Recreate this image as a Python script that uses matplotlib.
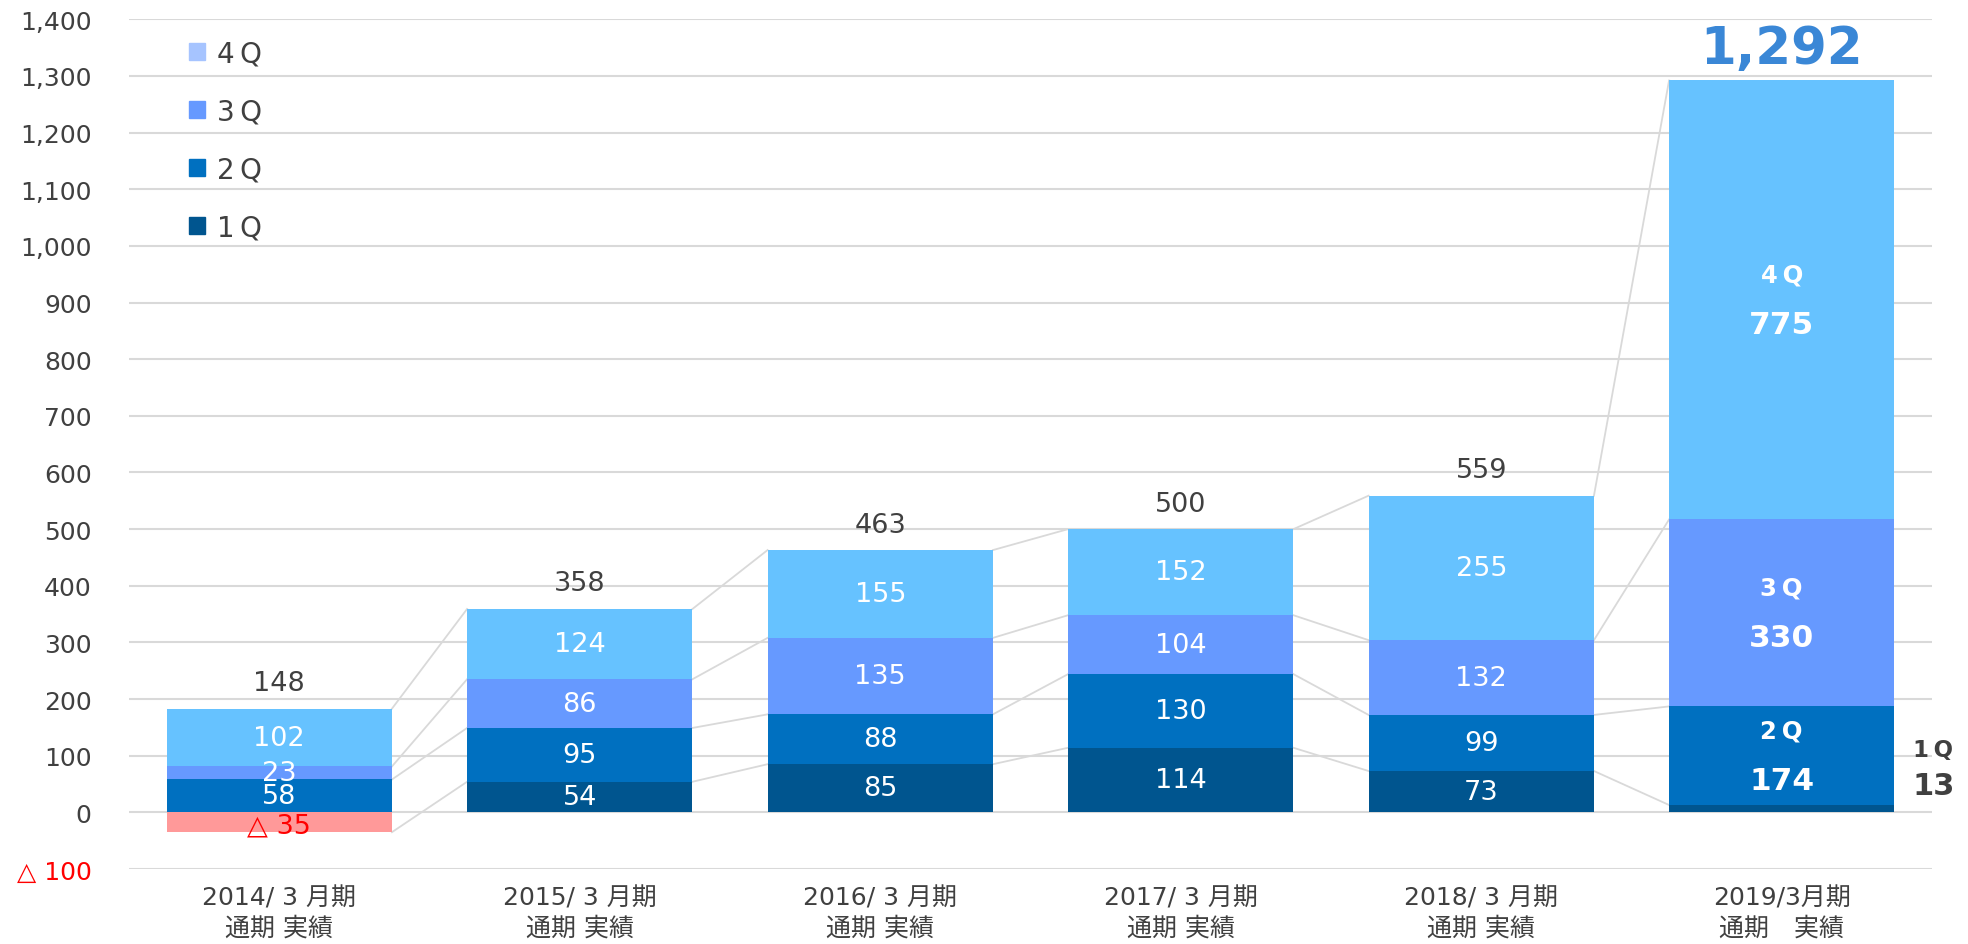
import numpy as np
import matplotlib.pyplot as plt
from matplotlib.patches import Patch

plt.rcParams['font.family'] = ['DejaVu Sans', 'Noto Sans CJK JP']

# data
categories = ["2014/ 3 月期\n通期 実績", "2015/ 3 月期\n通期 実績", "2016/ 3 月期\n通期 実績",
              "2017/ 3 月期\n通期 実績", "2018/ 3 月期\n通期 実績", "2019/3月期\n通期　実績"]
q1 = [-35, 54, 85, 114, 73, 13]
q2 = [58, 95, 88, 130, 99, 174]
q3 = [23, 86, 135, 104, 132, 330]
q4 = [102, 124, 155, 152, 255, 775]
totals = [148, 358, 463, 500, 559, 1292]
series_names = ["1\u2009Q", "2\u2009Q", "3\u2009Q", "4\u2009Q"]

colors = ["#00558f", "#0070c0", "#6699ff", "#66c2ff"]
neg_color = "#ff9999"
legend_colors = ["#00558f", "#0070c0", "#6699ff", "#a6c4ff"]
grey = "#404040"
line_grey = "#d9d9d9"

fig = plt.figure(figsize=(19.68, 9.45), dpi=100)
ax = fig.add_axes([129/1968, 1-870/945, (1932-129)/1968, (870-20.3)/945])

x = np.arange(len(categories))
w = 0.75
series = [q1, q2, q3, q4]
pos_base = np.zeros(len(x))
ends = []
bottoms = []
for k, vals in enumerate(series):
    vals = np.array(vals, dtype=float)
    bottom = np.where(vals < 0, 0, pos_base)
    cols = [neg_color if v < 0 else colors[k] for v in vals]
    ax.bar(x, vals, w, bottom=bottom, color=cols, zorder=3, linewidth=0)
    bottoms.append(bottom)
    ends.append(bottom + vals)
    pos_base = np.where(vals < 0, pos_base, pos_base + vals)

# connector lines between bars
for k in range(4):
    for i in range(len(x) - 1):
        ax.plot([x[i] + w/2, x[i+1] - w/2], [ends[k][i], ends[k][i+1]],
                color=line_grey, lw=1.3, zorder=2)

# segment labels
last = len(x) - 1
for k, vals in enumerate(series):
    for i, v in enumerate(vals):
        yc = bottoms[k][i] + v / 2
        if i == last:
            if k == 0:
                continue
            ax.annotate(series_names[k], (x[i], yc), xytext=(0, 18), textcoords="offset points",
                        ha="center", va="center", color="white", fontsize=17.5, fontweight="bold", zorder=5)
            ax.annotate(f"{v}", (x[i], yc), xytext=(0, -18), textcoords="offset points",
                        ha="center", va="center", color="white", fontsize=22.5, fontweight="bold", zorder=5)
        elif v < 0:
            ax.text(x[i], yc - 6, f"△ {abs(v)}", ha="center", va="center", color="red",
                    fontsize=19.5, zorder=5)
        else:
            ax.text(x[i], yc, f"{v}", ha="center", va="center", color="white", fontsize=19.5, zorder=5)

# 1Q label of last bar, outside right
ax.annotate(series_names[0], (x[last] + w/2, q1[last]), xytext=(28, 40), textcoords="offset points",
            ha="center", va="center", color=grey, fontsize=16.5, fontweight="bold", annotation_clip=False)
ax.annotate(f"{q1[last]}", (x[last] + w/2, q1[last]), xytext=(28, 14), textcoords="offset points",
            ha="center", va="center", color=grey, fontsize=22, fontweight="bold", annotation_clip=False)

# totals
for i, t in enumerate(totals):
    top = pos_base[i]
    if i == last:
        ax.annotate(f"{t:,}", (x[i], top), xytext=(0, 5), textcoords="offset points",
                    ha="center", va="bottom", color="#3a87d6", fontsize=37, fontweight="bold")
    else:
        ax.annotate(f"{t:,}", (x[i], top), xytext=(0, 9), textcoords="offset points",
                    ha="center", va="bottom", color=grey, fontsize=19.5)

# axes
ax.set_xlim(-0.5, len(x) - 0.5)
ax.set_ylim(-100, 1400)
yt = np.arange(-100, 1401, 100)
ax.set_yticks(yt)
ax.set_yticklabels([f"△ {abs(v)}" if v < 0 else f"{v:,}" for v in yt])
for lab, v in zip(ax.get_yticklabels(), yt):
    lab.set_color("red" if v < 0 else grey)
ax.tick_params(axis="y", length=0, pad=27, labelsize=18)
ax.set_xticks(x)
ax.set_xticklabels(categories, fontsize=18, color=grey, linespacing=1.3)
ax.tick_params(axis="x", length=0, pad=12)
ax.grid(axis="y", color=line_grey, lw=1.5, zorder=0)
ax.set_axisbelow(True)
for s in ax.spines.values():
    s.set_visible(False)

# legend
handles = [Patch(color=legend_colors[k], label=series_names[k]) for k in range(3, -1, -1)]
leg = ax.legend(handles=handles, loc="upper left", bbox_to_anchor=(189/1968, 1-40/945),
                bbox_transform=fig.transFigure, frameon=False, fontsize=20,
                handlelength=0.57, handleheight=0.57, handletextpad=0.45,
                labelspacing=1.08, borderpad=0, borderaxespad=0)
for t in leg.get_texts():
    t.set_color(grey)

fig.savefig("out.png", dpi=100)
